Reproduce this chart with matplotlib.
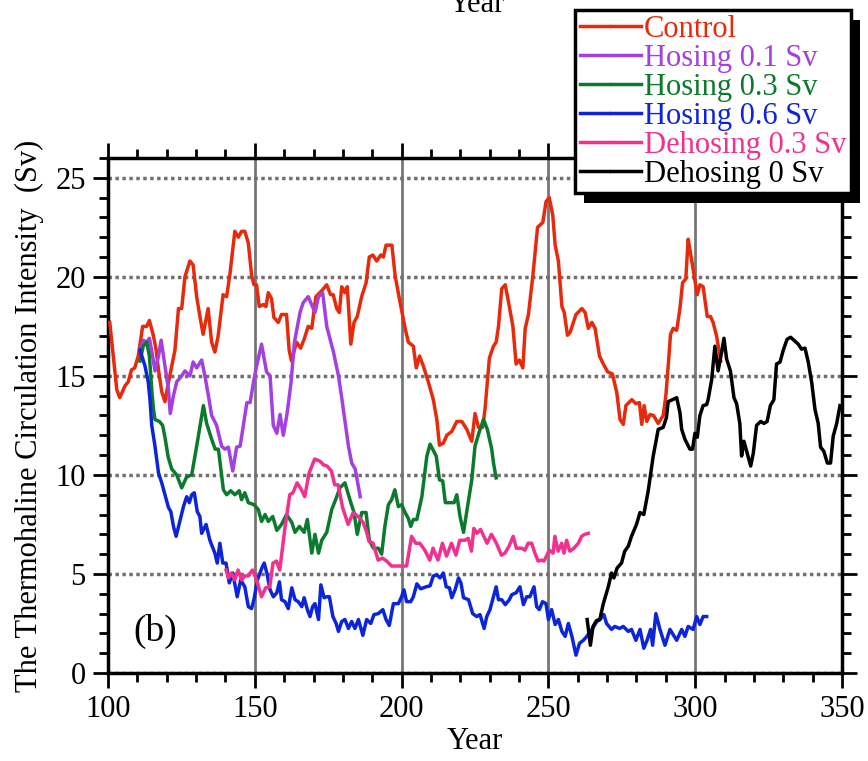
import matplotlib
matplotlib.use("Agg")
import matplotlib.pyplot as plt
from matplotlib.patches import Rectangle
from matplotlib.ticker import MultipleLocator

plt.rcParams['font.family'] = ['Liberation Serif', 'DejaVu Serif']

# ---- data ----
control_year = [100.6, 103, 104, 105.8, 106.9, 108, 109.1, 110.3, 111.8, 113.2, 114.1, 115.5, 116.4, 117.2,
                118.3, 119.4, 120.5, 121.7, 122.8, 124, 125.1, 126.2, 127.9, 129, 130.2, 131.3, 132.4, 134.1,
                135.3, 136.4, 137.5, 139.2, 140.4, 141.5, 143.2, 144.4, 145.5, 146.6, 147.8, 148.9, 149.7,
                150.6, 151.5, 152.9, 153.8, 154.6, 155.7, 156.5, 158, 159.1, 160.8, 161.7, 162.5, 164.2,
                165.6, 166.8, 168.2, 169.4, 170.8, 172.8, 174.5, 175.8, 176.7, 177.9, 178.8, 179.6, 180.7,
                181.5, 182.7, 183.8, 184.9, 186.4, 187.9, 189, 190.2, 191.5, 192.9, 193.8, 194.7, 196.7,
                197.8, 199.5, 201.2, 202.3, 204, 205, 206.1, 207.4, 209.1, 210.8, 212, 212.9, 214.2, 215.4,
                217.1, 218.8, 220.5, 222.2, 223.9, 225, 226.2, 227.6, 228.4, 229.9, 231.3, 232.2, 233, 234.1,
                235.3, 236.7, 237.9, 239, 240.1, 241.3, 242.1, 243.2, 244.7, 246.3, 248.1, 249.2, 250.3,
                251.5, 252.3, 253.4, 254.6, 255.4, 256.5, 257.4, 259.4, 261.4, 262.5, 263.6, 264.8, 265.9,
                267.4, 268.7, 270.2, 271.8, 273.3, 274.4, 275.5, 276.4, 278.4, 279.8, 281, 281.8, 282.6,
                283.5, 284.6, 285.8, 287.4, 289.1, 290, 290.8, 291.6, 292.5, 293.7, 294.8, 295.7, 296.8,
                297.6, 298.4, 299.5, 300.7, 301.6, 302.7, 304.1, 305.2, 306.1, 307.3, 308.7]
control_val = [17.7, 14.3, 13.9, 14.5, 14.7, 15.3, 15.4, 16.0, 17.5, 17.5, 17.8, 17.0, 16.3, 15.3,
               14.2, 13.7, 14.6, 15.5, 16.3, 18.4, 18.4, 20.0, 20.8, 20.6, 19.0, 18.0, 17.1, 18.4,
               16.7, 16.2, 17.0, 19.1, 19.0, 20.1, 22.3, 22.0, 22.3, 22.3, 21.7, 20.1, 19.6,
               19.6, 18.5, 18.6, 18.5, 19.2, 18.9, 17.95, 17.7, 18.1, 18.1, 16.3, 15.75, 16.7,
               16.4, 16.85, 17.5, 17.4, 19.0, 19.3, 19.6, 19.1, 19.1, 18.4, 18.2, 19.5, 19.2,
               19.5, 16.6, 17.7, 18.0, 19.0, 19.7, 21.0, 21.1, 20.8, 21.1, 21.0, 21.6, 21.6,
               20.05, 18.7, 17.4, 16.7, 16.5, 15.4, 16.0, 15.5, 14.7, 13.8, 12.8, 11.5, 11.6, 12.0,
               12.2, 12.7, 12.7, 12.3, 11.7, 13.1, 12.4, 12.4, 13.3, 15.9, 16.5, 16.7, 17.5, 19.4,
               19.6, 18.5, 17.5, 15.6, 15.8, 15.4, 17.4, 18.1, 20.05, 22.5, 22.75, 23.8, 24.0,
               23.1, 21.6, 20.8, 18.5, 18.2, 17.05, 17.2, 18.1, 18.4, 18.2, 17.4, 17.7, 17.4,
               16.0, 15.6, 15.2, 15.1, 14.15, 12.8, 12.55, 13.5, 13.8, 13.6, 13.65, 12.55, 13.5,
               12.7, 13.05, 13.0, 12.6, 13.0, 14.0, 15.5, 17.1, 17.4, 17.3, 18.4, 19.7, 19.9,
               21.9, 21.2, 20.2, 19.1, 19.6, 19.5, 18.0, 18.0, 17.7, 17.0, 15.75]

hosing01_year = [110.9, 112, 113.2, 114.1, 115.2, 116, 117.2, 118.1, 119.4, 120.6, 121.2, 122.3, 123.4,
                 125.1, 126.2, 127.9, 129, 130.2, 131.9, 133, 134.2, 135.3, 137, 138.7, 139.8, 141,
                 142.5, 143.8, 145, 147.3, 148.4, 149.7, 150.6, 152.3, 154, 155.2, 156.3, 157.5, 158.6,
                 159.7, 160.9, 162.3, 163.5, 165.4, 166.5, 168.2, 170.5, 171.7, 173.1, 174.5, 176.8,
                 178.5, 179.6, 181.9, 183, 184.2, 185.9]
hosing01_val = [16.3, 16.8, 16.7, 16.9, 16.0, 15.25, 16.0, 16.8, 15.5, 14.3, 13.1, 14.0, 14.7,
                15.0, 15.25, 15.0, 15.7, 15.4, 15.8, 15.0, 14.0, 13.0, 12.5, 11.45, 11.3, 11.4,
                10.2, 11.4, 11.45, 13.65, 13.65, 14.8, 15.5, 16.6, 15.2, 15.0, 12.5, 12.1, 13.05,
                12.0, 13.0, 14.6, 16.7, 18.2, 18.7, 19.0, 18.2, 19.0, 19.2, 17.5, 16.2,
                15.0, 13.9, 11.45, 10.6, 10.3, 8.9]

hosing03_year = [110.9, 112, 113.2, 114.1, 114.9, 115.5, 116, 117.5, 118.6, 119.4, 120.5, 121.7, 123.4,
                 125.1, 126.8, 128.5, 130.2, 132.5, 133.6, 135.3, 136.5, 137.6, 139.3, 140.4, 141.8,
                 143.2, 144.7, 145.5, 146.6, 147.8, 149.7, 151.2, 152.3, 153.5, 154.6, 156.1, 157.5,
                 159.1, 160.8, 162.6, 163.7, 165.2, 166.8, 167.9, 169.4, 170.5, 171.7, 172.8, 174.5,
                 176.2, 177.9, 179, 180.7, 182.4, 183.8, 184.9, 186.4, 187.9, 189, 190.4, 192.1, 193.2,
                 194.3, 195.5, 196.6, 197.7, 198.9, 200, 201.2, 202.3, 203.1, 204, 205.2, 206.9, 208.6,
                 209.7, 211.8, 212.9, 214, 214.9, 216.5, 217.9, 218.8, 219.9, 221.1, 222.4, 223.9, 225,
                 226.5, 227.9, 229.2, 230.7, 231.3, 232.2]
hosing03_val = [15.75, 16.5, 16.7, 16.0, 14.3, 13.3, 12.8, 12.7, 12.5, 11.9, 10.9, 10.3, 10.0,
                9.35, 9.9, 10.0, 11.45, 13.5, 12.6, 11.8, 11.3, 11.3, 9.25, 9.0, 9.2,
                9.0, 9.2, 8.75, 9.1, 8.6, 8.5, 8.25, 7.65, 8.0, 7.65, 7.9, 7.2,
                7.5, 8.0, 7.6, 7.1, 7.4, 7.1, 7.75, 6.05, 7.0, 6.05, 6.7, 7.1,
                8.25, 8.9, 9.35, 9.6, 8.75, 8.1, 7.0, 8.1, 8.1, 6.7, 6.3, 6.3, 6.0,
                7.4, 8.5, 8.75, 9.25, 8.4, 8.5, 8.1, 7.8, 7.4, 7.75, 7.75, 8.9, 10.95,
                11.55, 10.95, 9.75, 9.7, 8.6, 8.6, 8.6, 9.0, 7.9, 7.1, 8.35, 9.75, 11.45,
                12.2, 12.8, 12.3, 11.3, 10.6, 9.85]

hosing06_year = [110.9, 112.6, 113.7, 114.3, 114.9, 116, 117.2, 118.3, 119.4, 120.6, 121.4, 122.3, 123.2,
                 124.6, 125.7, 126.8, 127.7, 128.5, 129.4, 130.4, 131.3, 131.9, 133.4, 134.7, 136.4,
                 137.2, 138.1, 139.1, 140.2, 141.3, 142.5, 144, 145.2, 146.6, 147.8, 148.9, 149.7,
                 150.9, 152.4, 153.2, 154.1, 155.2, 156.3, 157.5, 158.4, 159.1, 160.3, 161.4, 162.6,
                 163.7, 164.8, 166, 166.8, 167.9, 168.8, 169.7, 170.5, 171.7, 172.5, 173.6, 174.5,
                 175.4, 176.6, 177.7, 178.5, 179.6, 180.7, 181.9, 183, 184.1, 185.3, 186.8, 188.1,
                 189.5, 190.6, 192.1, 193.6, 194.7, 195.8, 197.2, 198.9, 200, 200.8, 201.7, 203.1,
                 204, 205.2, 206.5, 208.3, 209.7, 210.8, 212, 213.1, 214.2, 215.2, 216.3, 217.1, 218.2,
                 219.4, 220.2, 221.1, 222.8, 224.2, 225.6, 226.7, 228.1, 229, 230.1, 231.3, 232.2, 233,
                 234.1, 235.3, 236.7, 237.5, 239, 240.3, 241.5, 242.6, 243.7, 245.1, 246, 246.9, 248,
                 249.2, 250, 251.1, 252.3, 253.4, 254.6, 255.7, 256.8, 258, 259.4, 260.6, 261.9, 263.1,
                 264.8, 266.5, 267.6, 268.9, 269.8, 271.5, 272.6, 274.3, 275.5, 277.2, 278.3, 279.8,
                 281.2, 282.5, 283.6, 284.8, 285.5, 286.6, 288, 289.7, 291.4, 293.7, 295.4, 296.5,
                 297.6, 299.3, 300.5, 301.6, 302.7, 303.9]
hosing06_val = [16.3, 15.5, 14.7, 13.8, 12.5, 11.45, 10.1, 9.6, 9.0, 8.35, 8.15, 7.4, 6.9,
                7.75, 8.4, 8.9, 8.6, 9.0, 9.1, 8.15, 7.9, 7.05, 7.5, 6.7, 6.05,
                5.55, 6.55, 5.55, 5.55, 4.55, 5.05, 3.85, 4.7, 4.35, 3.35, 3.25, 3.7,
                4.7, 5.3, 5.55, 5.05, 4.2, 3.85, 4.05, 4.6, 3.7, 3.6, 3.25, 4.3,
                3.7, 3.6, 3.35, 3.8, 3.2, 2.85, 3.35, 3.5, 2.7, 4.45, 3.8, 3.85,
                3.85, 2.85, 2.5, 2.1, 2.6, 2.7, 2.25, 2.6, 2.25, 2.7, 1.9, 2.7,
                2.5, 2.95, 3.0, 3.2, 2.7, 2.4, 3.5, 3.5, 3.85, 4.2, 3.6, 3.6,
                3.85, 4.5, 4.25, 4.35, 4.4, 4.9, 4.95, 4.8, 5.05, 4.35, 4.3, 3.8, 4.2,
                4.8, 4.55, 3.8, 3.7, 3.0, 2.85, 2.95, 2.25, 2.85, 3.2, 3.85, 4.35, 3.7,
                3.7, 3.45, 3.7, 3.95, 4.05, 4.35, 3.45, 3.85, 3.85, 4.35, 3.35, 3.2, 3.6,
                3.5, 2.7, 3.2, 2.45, 2.7, 2.1, 1.85, 2.5, 1.85, 0.9, 1.5, 1.65, 1.85,
                2.2, 2.6, 2.7, 2.95, 2.5, 2.2, 2.35, 2.25, 2.35, 2.1, 2.2, 1.65,
                2.2, 1.25, 1.65, 2.2, 1.4, 3.0, 2.2, 1.4, 2.2, 1.65, 2.2, 1.85,
                2.35, 2.2, 2.85, 2.45, 2.85, 2.85]

dehosing03_year = [140.2, 141, 142, 143.2, 144.3, 145.5, 146.6, 147.7, 149.2, 150.6, 152.3, 153.7, 155.1,
                   156.2, 157.4, 158.5, 160.2, 161.9, 163, 164.4, 165.9, 167, 168.5, 170.4, 172.1,
                   173.5, 174.6, 176.1, 177.2, 178.4, 179.9, 181.8, 183.5, 185.2, 186.9, 188, 188.9,
                   190.3, 192, 193.5, 194.9, 196.6, 198.9, 201.7, 203.4, 204.8, 206.2, 207.9, 209.6,
                   210.7, 212.4, 213.9, 215.3, 217, 218.5, 219.8, 221.5, 222.7, 223.8, 224.6, 225.7,
                   226.9, 228, 229.1, 230.6, 232.3, 234, 235.2, 236.6, 238, 239.1, 240.9, 242, 243.1,
                   244.3, 245.4, 246.5, 247.7, 248.5, 250.3, 251.6, 252.2, 253.3, 254.5, 255.3, 256.2,
                   257.3, 258.7, 260.2, 261.3, 262.4, 263.6]
dehosing03_val = [5.2, 4.8, 5.05, 4.7, 5.2, 4.7, 4.9, 4.9, 5.2, 4.7, 3.85, 4.3, 4.35,
                  5.55, 5.65, 5.2, 7.25, 9.0, 9.1, 9.6, 9.25, 8.9, 10.1, 10.8, 10.7,
                  10.5, 10.45, 10.2, 9.5, 9.5, 8.35, 7.5, 8.1, 7.9, 7.6, 7.15, 6.65,
                  6.55, 5.7, 5.8, 5.65, 5.4, 5.4, 5.4, 6.9, 6.55, 6.55, 6.2, 5.7,
                  6.3, 5.7, 6.55, 5.9, 6.55, 5.95, 6.7, 6.7, 6.8, 6.15, 7.3, 7.05,
                  7.25, 6.9, 6.55, 7.0, 6.55, 5.95, 6.05, 6.4, 6.9, 6.3, 6.3, 6.2, 6.55,
                  6.55, 6.05, 5.65, 5.7, 5.65, 6.2, 6.05, 6.9, 6.15, 6.55, 6.05, 6.7,
                  6.15, 6.3, 6.55, 6.9, 7.0, 7.05]

dehosing0_year = [263.2, 264.3, 265.2, 266.4, 267.5, 268.7, 270.4, 271.5, 272.3, 273.4, 274.9, 276, 277.2,
                  278.3, 280, 281.2, 282.5, 284, 285.7, 287.4, 289.1, 290.2, 290.8, 292.3, 293.7, 294.8,
                  295.4, 296.5, 298.2, 299.1, 299.9, 300.7, 301.6, 302.7, 303.9, 304.4, 305.6, 306.7,
                  307.8, 309, 309.8, 310.7, 312, 313.2, 314.1, 315.2, 315.8, 316.6, 317.7, 318.9, 319.8,
                  320.9, 322.3, 323.4, 324.5, 325.6, 326.8, 327.7, 328.9, 330, 331.3, 332.5, 334, 335.1,
                  336.2, 337.4, 338.5, 339.7, 340.8, 341.9, 342.7, 343.8, 345, 346.1, 347, 348.2, 349.3]
dehosing0_val = [2.7, 1.4, 2.35, 2.65, 2.7, 3.5, 4.35, 5.05, 4.8, 5.3, 5.55, 6.15, 6.4,
                 6.9, 7.5, 8.1, 8.0, 9.2, 10.95, 12.3, 12.4, 12.9, 13.7, 13.8, 13.9, 13.15,
                 12.3, 11.8, 11.3, 11.3, 12.1, 11.9, 13.0, 13.5, 13.55, 13.8, 14.8, 16.5,
                 15.25, 16.2, 16.9, 15.85, 15.25, 13.9, 13.6, 12.6, 10.95, 11.7, 11.1, 10.45, 11.1,
                 12.5, 12.7, 12.6, 12.7, 13.5, 13.8, 15.6, 15.7, 16.3, 16.85, 16.95, 16.75, 16.6,
                 16.35, 16.4, 15.7, 14.65, 13.3, 12.6, 11.4, 11.2, 10.6, 10.6, 11.95, 12.6, 13.5]

labels = ['Control', 'Hosing 0.1 Sv', 'Hosing 0.3 Sv', 'Hosing 0.6 Sv', 'Dehosing 0.3 Sv', 'Dehosing 0 Sv']
colors = ['#e82a0c', '#a43fe0', '#0b7a2c', '#0c25d9', '#f2318e', '#000000']
series = [(control_year, control_val), (hosing01_year, hosing01_val), (hosing03_year, hosing03_val),
          (hosing06_year, hosing06_val), (dehosing03_year, dehosing03_val), (dehosing0_year, dehosing0_val)]

fig = plt.figure(figsize=(8.68, 7.61), dpi=100)
ax = fig.add_axes([108 / 868, 1 - 673 / 761, 734 / 868, 515 / 761])

for (yr, val), lab, col in zip(series, labels, colors):
    ax.plot(yr, val, color=col, lw=2.5, label=lab, zorder=3)

ax.set_xlim(100, 350)
ax.set_ylim(0, 26)
ax.xaxis.set_major_locator(MultipleLocator(50))
ax.xaxis.set_minor_locator(MultipleLocator(10))
ax.yaxis.set_major_locator(MultipleLocator(5))
ax.yaxis.set_minor_locator(MultipleLocator(1))
ax.tick_params(which='both', direction='out', top=True, right=True, width=2, labelsize=22, pad=5)
ax.tick_params(which='major', length=11)
ax.tick_params(which='minor', length=6.5)
for s in ax.spines.values():
    s.set_linewidth(2.5)

ax.xaxis.grid(True, which='major', color='#777777', lw=2, ls='-', zorder=1)
ax.yaxis.grid(True, which='major', color='#707070', lw=2.5, ls=(0, (1, 1)), zorder=1)

ax.set_xlabel('Year', fontsize=22, labelpad=2)
ax.set_ylabel('The Thermohaline Circulation Intensity  (Sv)', fontsize=22, labelpad=8)
ax.text(0.065, 0.08, '(b)', transform=ax.transAxes, fontsize=27, ha='center', va='center')

# stray top axis title, mostly cut off
fig.text(477 / 868, 1 - 12 / 761, 'Year', fontsize=22, ha='center', va='baseline')

# legend with a black drop shadow
lh = [plt.Line2D([], [], color=c, lw=2.5, marker='.', markersize=3) for c in colors]
leg = fig.legend(lh, labels, loc='upper right', bbox_to_anchor=(851 / 868, 1 - 10 / 761),
                 bbox_transform=fig.transFigure, borderaxespad=0, fontsize=22, frameon=True,
                 fancybox=False, handlelength=2.0, handletextpad=0.1, labelspacing=0.0,
                 borderpad=0.15, numpoints=1)
leg.set_zorder(6)
frame = leg.get_frame()
frame.set_edgecolor('black')
frame.set_linewidth(2.5)
frame.set_facecolor('white')
frame.set_alpha(1)
for t, c in zip(leg.get_texts(), colors):
    t.set_color(c)

fig.canvas.draw()
bb = leg.get_window_extent().transformed(fig.transFigure.inverted())
dx, dy = 9 / 868, 10 / 761
fig.patches.append(Rectangle((bb.x0 + dx, bb.y0 - dy), bb.width, bb.height, transform=fig.transFigure,
                             facecolor='black', edgecolor='none', zorder=5.5))

fig.savefig('out.png', dpi=100)
